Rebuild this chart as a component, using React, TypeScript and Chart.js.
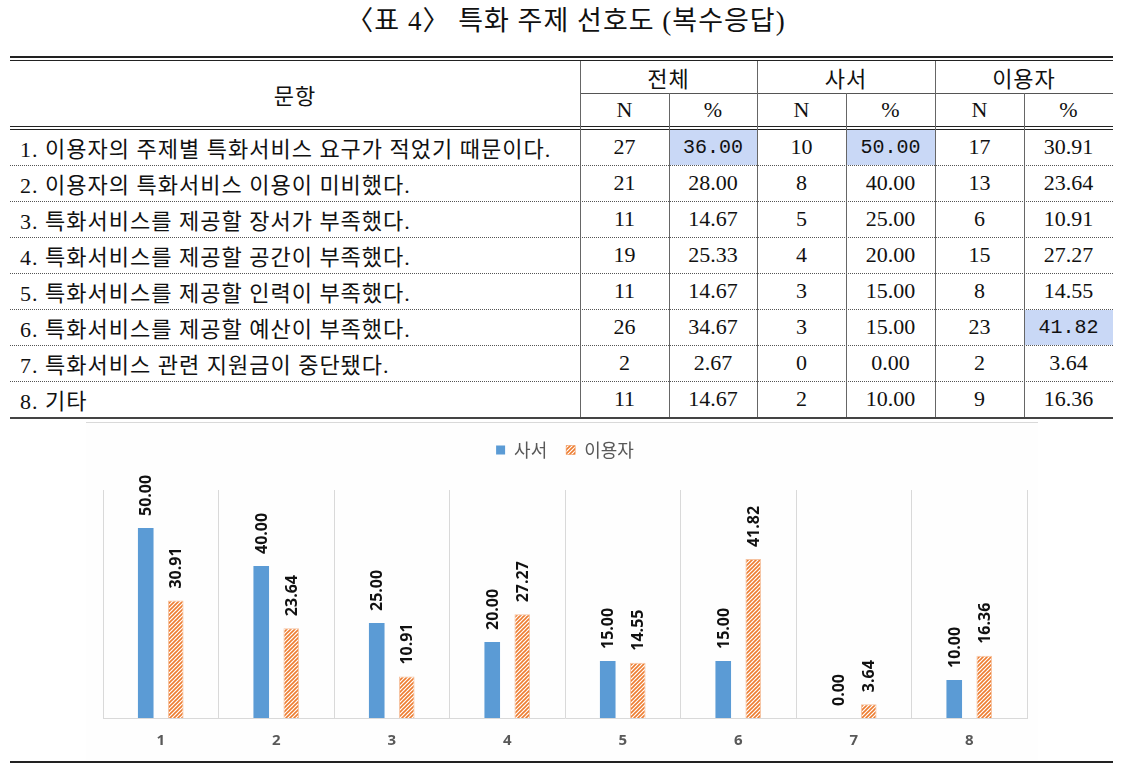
import React, { useEffect, useRef } from "react";
import { Chart, registerables } from "chart.js";

Chart.register(...registerables);

const title = "〈표 4〉 특화 주제 선호도 (복수응답)";
const itemHeader = "문항";
const groupLabels = ["전체", "사서", "이용자"];
const subLabels = ["N", "%"];
const items = [
  "1. 이용자의 주제별 특화서비스 요구가 적었기 때문이다.",
  "2. 이용자의 특화서비스 이용이 미비했다.",
  "3. 특화서비스를 제공할 장서가 부족했다.",
  "4. 특화서비스를 제공할 공간이 부족했다.",
  "5. 특화서비스를 제공할 인력이 부족했다.",
  "6. 특화서비스를 제공할 예산이 부족했다.",
  "7. 특화서비스 관련 지원금이 중단됐다.",
  "8. 기타",
];
const totalN = [27, 21, 11, 19, 11, 26, 2, 11];
const totalPct = [36.0, 28.0, 14.67, 25.33, 14.67, 34.67, 2.67, 14.67];
const librarianN = [10, 8, 5, 4, 3, 3, 0, 2];
const librarianPct = [50.0, 40.0, 25.0, 20.0, 15.0, 15.0, 0.0, 10.0];
const userN = [17, 13, 6, 15, 8, 23, 2, 9];
const userPct = [30.91, 23.64, 10.91, 27.27, 14.55, 41.82, 3.64, 16.36];
const categories = ["1", "2", "3", "4", "5", "6", "7", "8"];
const seriesNames = ["사서", "이용자"];

const TABLE_FONT = "'Liberation Serif', 'Noto Sans CJK KR', serif";
const COL_X = [10, 580, 669, 757, 846, 935, 1024, 1113];
const ROW0 = 129;
const ROW_H = 36;

function makeHatch(): CanvasPattern | string {
  const c = document.createElement("canvas");
  c.width = 4;
  c.height = 4;
  const ctx = c.getContext("2d");
  if (!ctx) return "#ED7D31";
  ctx.fillStyle = "#ffffff";
  ctx.fillRect(0, 0, 4, 4);
  ctx.strokeStyle = "#ED7D31";
  ctx.lineWidth = 1.6;
  ctx.beginPath();
  ctx.moveTo(0, 4);
  ctx.lineTo(4, 0);
  ctx.moveTo(-1, 1);
  ctx.lineTo(1, -1);
  ctx.moveTo(3, 5);
  ctx.lineTo(5, 3);
  ctx.stroke();
  return ctx.createPattern(c, "repeat") || "#ED7D31";
}

const valueLabels = {
  id: "valueLabels",
  afterDatasetsDraw(chart: any) {
    const ctx = chart.ctx;
    ctx.save();
    ctx.font = "bold 16px 'Open Sans'";
    ctx.fillStyle = "#111111";
    ctx.textAlign = "left";
    ctx.textBaseline = "middle";
    chart.data.datasets.forEach((ds: any, di: number) => {
      const meta = chart.getDatasetMeta(di);
      meta.data.forEach((el: any, i: number) => {
        const v = ds.data[i] as number;
        ctx.save();
        ctx.translate(el.x, el.y - 12);
        ctx.rotate(-Math.PI / 2);
        ctx.fillText(v.toFixed(2), 0, 1);
        ctx.restore();
      });
    });
    ctx.restore();
  },
};

const legendHeight = {
  id: "legendHeight",
  beforeInit(chart: any) {
    const legend = chart.legend;
    if (!legend) return;
    const orig = legend.fit;
    legend.fit = function () {
      orig.call(this);
      this.height = 68;
    };
  },
};

function BarChart() {
  const ref = useRef<HTMLCanvasElement | null>(null);
  useEffect(() => {
    if (!ref.current) return;
    const hatch = makeHatch();
    const chart = new Chart(ref.current, {
      type: "bar",
      data: {
        labels: categories,
        datasets: [
          {
            label: seriesNames[0],
            data: librarianPct,
            backgroundColor: "#5B9BD5",
            borderWidth: 0,
            categoryPercentage: 0.52,
            barPercentage: 0.52,
          },
          {
            label: seriesNames[1],
            data: userPct,
            backgroundColor: hatch as any,
            borderColor: "rgba(237,125,49,0.45)",
            borderWidth: 1,
            categoryPercentage: 0.52,
            barPercentage: 0.52,
          },
        ],
      },
      options: {
        responsive: false,
        animation: false,
        layout: { padding: { left: 17, right: 11, top: 0, bottom: 0 } },
        plugins: {
          legend: {
            display: true,
            position: "top",
            labels: {
              boxWidth: 9,
              boxHeight: 9,
              padding: 19,
              color: "#595959",
              font: { size: 18, family: "'Noto Sans CJK KR'" },
            },
          },
          tooltip: { enabled: false },
        },
        scales: {
          x: {
            grid: { color: "#d9d9d9", drawTicks: false, offset: true },
            border: { display: true, color: "#d9d9d9" },
            ticks: {
              color: "#595959",
              padding: 14,
              font: { size: 15, weight: "bold", family: "'Open Sans'" },
            },
            afterFit(scale: any) {
              scale.height = 42;
            },
          },
          y: { display: false, min: 0, max: 60 },
        },
      },
      plugins: [valueLabels, legendHeight],
    } as any);
    return () => chart.destroy();
  }, []);
  return <canvas ref={ref} width={952} height={338} style={{ display: "block" }} />;
}

function Cell(props: { x0: number; x1: number; y0: number; y1: number; children: any; style?: any }) {
  const { x0, x1, y0, y1, children, style } = props;
  return (
    <div
      style={{
        position: "absolute",
        left: x0,
        top: y0,
        width: x1 - x0,
        height: y1 - y0,
        display: "flex",
        alignItems: "center",
        justifyContent: "center",
        fontFamily: TABLE_FONT,
        fontSize: 22,
        color: "#111",
        whiteSpace: "nowrap",
        ...style,
      }}
    >
      {children}
    </div>
  );
}

function HLine(props: { x0: number; x1: number; y: number; h?: number; color?: string; dotted?: boolean }) {
  const { x0, x1, y, h = 1, color = "#333", dotted } = props;
  return (
    <div
      style={{
        position: "absolute",
        left: x0,
        top: y,
        width: x1 - x0,
        height: dotted ? 0 : h,
        background: dotted ? "transparent" : color,
        borderTop: dotted ? `1px dotted ${color}` : "none",
      }}
    />
  );
}

function VLine(props: { x: number; y0: number; y1: number; color?: string }) {
  const { x, y0, y1, color = "#666" } = props;
  return <div style={{ position: "absolute", left: x, top: y0, width: 1, height: y1 - y0, background: color }} />;
}

export default function App() {
  const cols = [totalN, totalPct, librarianN, librarianPct, userN, userPct];
  const isPct = [false, true, false, true, false, true];
  const maxes = cols.map((c) => Math.max(...c));
  const tableBottom = ROW0 + ROW_H * items.length;

  return (
    <div style={{ position: "absolute", left: 0, top: 0, width: 1132, height: 764, background: "#fff", overflow: "hidden" }}>
      <div
        style={{
          position: "absolute",
          left: 0,
          top: 0,
          width: 1132,
          height: 42,
          lineHeight: "42px",
          textAlign: "center",
          fontFamily: TABLE_FONT,
          fontSize: 27,
          letterSpacing: 1,
          color: "#111",
        }}
      >
        {title}
      </div>

      {/* table lines */}
      <HLine x0={10} x1={1113} y={56} h={2} color="#222" />
      <HLine x0={10} x1={1113} y={60} h={1} color="#222" />
      <HLine x0={580} x1={1113} y={93} h={1} color="#555" />
      <HLine x0={10} x1={1113} y={126} h={1} color="#222" />
      <HLine x0={10} x1={1113} y={129} h={1} color="#222" />
      {items.slice(1).map((_, i) => (
        <HLine key={"d" + i} x0={10} x1={1113} y={ROW0 + ROW_H * (i + 1)} color="#555" dotted />
      ))}
      <HLine x0={10} x1={1113} y={tableBottom} h={2} color="#444" />

      {/* highlighted cells */}
      {cols.map((c, ci) =>
        c.map((v, ri) =>
          isPct[ci] && v === maxes[ci] ? (
            <div
              key={"hl" + ci + "_" + ri}
              style={{
                position: "absolute",
                left: COL_X[ci + 1] + 1,
                top: ROW0 + ROW_H * ri + 1,
                width: COL_X[ci + 2] - COL_X[ci + 1] - 1,
                height: ROW_H - 1,
                background: "#c9d8f6",
              }}
            />
          ) : null
        )
      )}

      {[1, 3, 5].map((k) => (
        <VLine key={"vg" + k} x={COL_X[k]} y0={61} y1={tableBottom} />
      ))}
      {[2, 4, 6].map((k) => (
        <VLine key={"vs" + k} x={COL_X[k]} y0={93} y1={tableBottom} />
      ))}

      {/* header */}
      <Cell x0={10} x1={580} y0={61} y1={126} style={{ fontSize: 22, letterSpacing: 1 }}>
        {itemHeader}
      </Cell>
      {groupLabels.map((g, gi) => (
        <Cell key={"g" + gi} x0={COL_X[1 + gi * 2]} x1={COL_X[3 + gi * 2]} y0={61} y1={93} style={{ fontSize: 22, letterSpacing: 1 }}>
          {g}
        </Cell>
      ))}
      {[0, 1, 2, 3, 4, 5].map((k) => (
        <Cell key={"s" + k} x0={COL_X[k + 1]} x1={COL_X[k + 2]} y0={93} y1={126}>
          {subLabels[k % 2]}
        </Cell>
      ))}

      {/* body */}
      {items.map((t, ri) => (
        <Cell
          key={"i" + ri}
          x0={20}
          x1={580}
          y0={ROW0 + ROW_H * ri}
          y1={ROW0 + ROW_H * (ri + 1)}
          style={{ justifyContent: "flex-start", fontSize: 22, letterSpacing: 1 }}
        >
          {t}
        </Cell>
      ))}
      {cols.map((c, ci) =>
        c.map((v, ri) => {
          const hl = isPct[ci] && v === maxes[ci];
          return (
            <Cell
              key={"v" + ci + "_" + ri}
              x0={COL_X[ci + 1]}
              x1={COL_X[ci + 2]}
              y0={ROW0 + ROW_H * ri}
              y1={ROW0 + ROW_H * (ri + 1)}
              style={hl ? { fontFamily: "'Liberation Mono', monospace", fontSize: 20 } : undefined}
            >
              {isPct[ci] ? v.toFixed(2) : String(v)}
            </Cell>
          );
        })
      )}

      {/* chart */}
      <div
        style={{
          position: "absolute",
          left: 86,
          top: 422,
          width: 952,
          height: 338,
          background: "#fefefe",
          borderTop: "1px solid #d9d9d9",
          boxSizing: "border-box",
        }}
      >
        <div style={{ position: "absolute", left: 0, top: -1 }}>
          <BarChart />
        </div>
      </div>
      <HLine x0={10} x1={1113} y={761} h={2} color="#222" />
    </div>
  );
}
